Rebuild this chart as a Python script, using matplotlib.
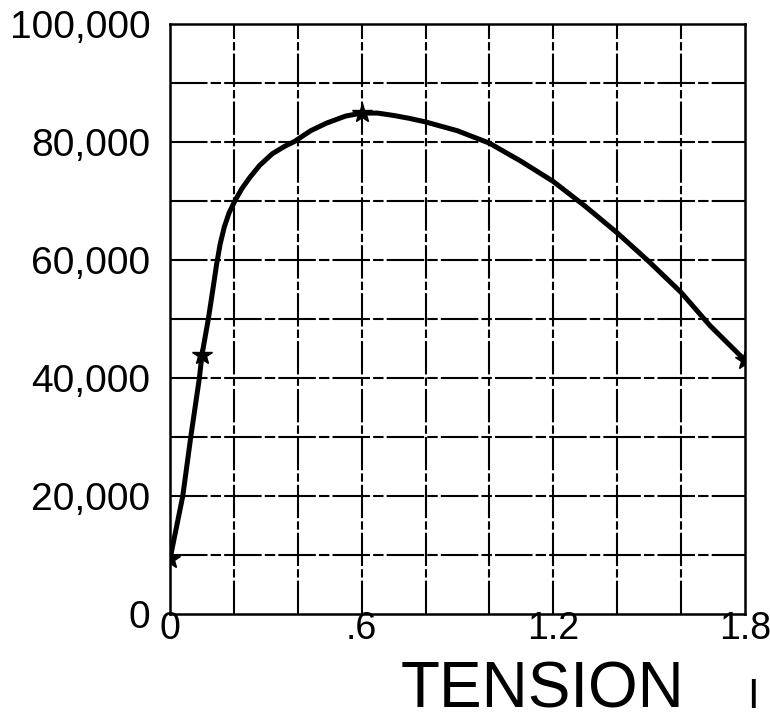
import numpy as np
import matplotlib
matplotlib.use("Agg")
import matplotlib.pyplot as plt

# measured points (stars)
tension_pts = [0.0, 0.1, 0.6, 1.8]
value_pts = [9300, 43900, 84900, 43000]

# hand-faired curve through the points
curve_x = [0.0, 0.04, 0.065, 0.092, 0.1, 0.12, 0.135, 0.146, 0.157, 0.17,
           0.185, 0.203, 0.225, 0.25, 0.28, 0.32, 0.36, 0.39, 0.44, 0.49,
           0.55, 0.6, 0.65, 0.70, 0.75, 0.80, 0.90, 1.0, 1.1, 1.2, 1.3,
           1.4, 1.5, 1.6, 1.69, 1.8]
curve_y = [9300, 20000, 30000, 40000, 43900, 50000, 55300, 59300, 62700, 65600,
           68000, 70000, 72100, 74000, 76000, 78000, 79300, 80100, 81900, 83200,
           84400, 84900, 84900, 84500, 84000, 83400, 81900, 79800, 76700, 73300, 69100,
           64600, 59700, 54500, 48900, 43000]

x_ticks = [0.0, 0.6, 1.2, 1.8]
x_labels = ["0", ".6", "1.2", "1.8"]
y_ticks = [0, 20000, 40000, 60000, 80000, 100000]
y_labels = ["0", "20,000", "40,000", "60,000", "80,000", "100,000"]

W, H = 770, 723
fig = plt.figure(figsize=(W / 100, H / 100), dpi=100)
ax = fig.add_axes([170 / W, 1 - 614 / H, 575 / W, 590 / H])

ax.set_xlim(0, 1.8)
ax.set_ylim(0, 100000)

# grid every 0.2 and every 10,000
for gx in np.arange(0.2, 1.8, 0.2):
    ax.axvline(gx, color="black", lw=1.5, dashes=(16, 1.5, 4, 1.5), zorder=1)
for gy in range(10000, 100000, 10000):
    ax.axhline(gy, color="black", lw=1.5, dashes=(18, 1.5, 5, 1.5), zorder=1)

for s in ax.spines.values():
    s.set_linewidth(1.8)
    s.set_color("black")

ax.plot(curve_x, curve_y, color="black", lw=3.6, solid_capstyle="round",
        solid_joinstyle="round", zorder=3)
ax.plot(tension_pts, value_pts, linestyle="none", marker="*", ms=15,
        color="black", zorder=4)

font = ["Liberation Sans", "DejaVu Sans"]
ax.set_xticks(x_ticks)
ax.set_xticklabels(x_labels, fontsize=27, family=font)
ax.set_yticks(y_ticks)
ax.set_yticklabels(y_labels, fontsize=28, family=font)
ax.tick_params(axis="both", length=0)
ax.tick_params(axis="x", pad=-2)
ax.tick_params(axis="y", pad=14)

fig.text(543 / W, 1 - 708 / H, "TENSION", fontsize=46, family=font,
         ha="center", va="baseline")
fig.text(753 / W, 1 - 708 / H, "I", fontsize=30, family=font,
         ha="center", va="baseline")

fig.savefig("out.png", dpi=100)
